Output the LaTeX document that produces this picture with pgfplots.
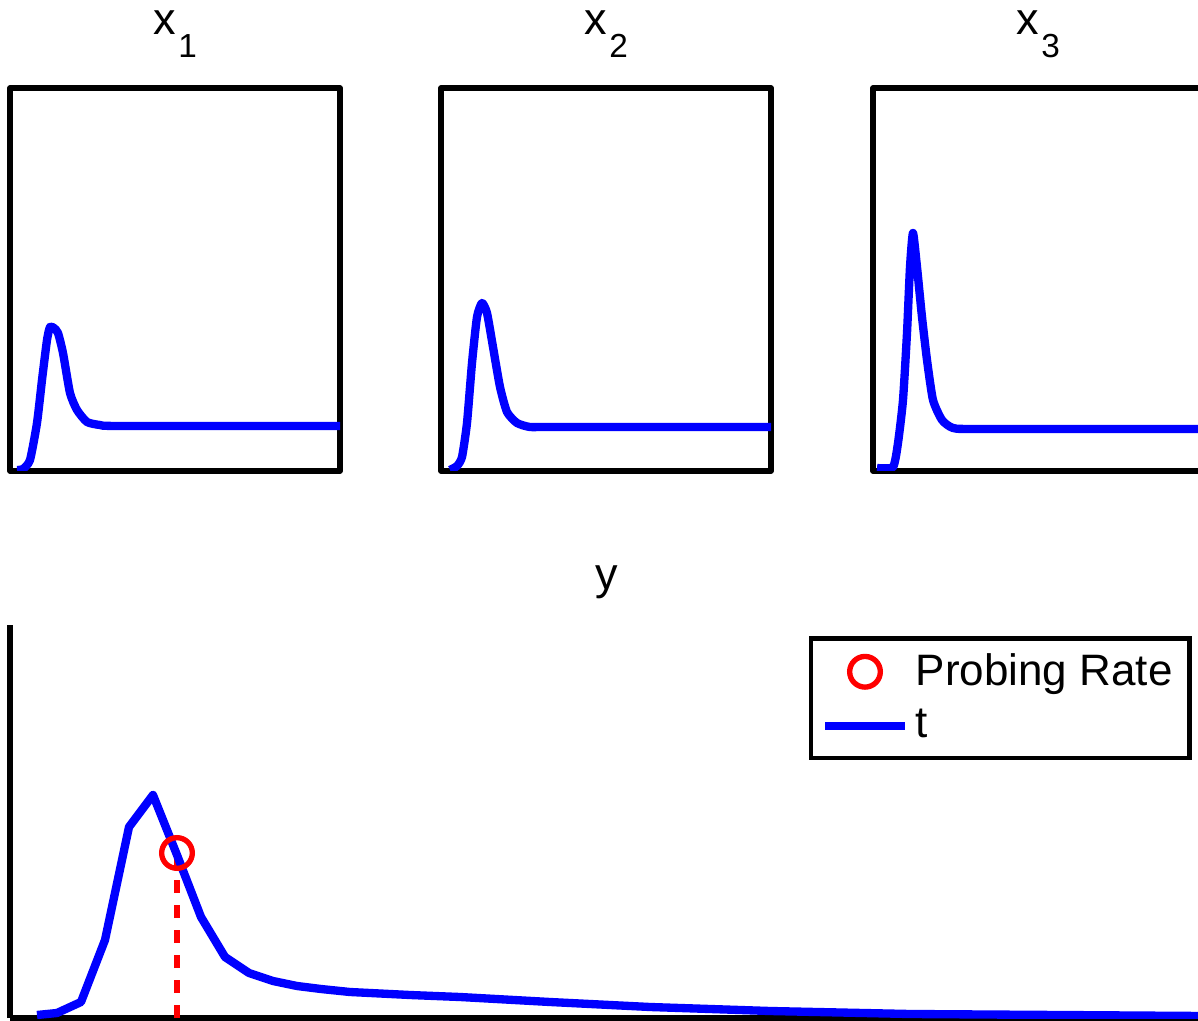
\documentclass[border=0pt]{standalone}
\usepackage{pgfplots}
\pgfplotsset{compat=1.18}
\usepackage{fontspec}
\setmainfont{Liberation Sans}
\begin{document}
\begin{tikzpicture}
\useasboundingbox (0,0) rectangle (359.4pt,306pt);
\pgfplotsset{
  every axis title shift=0pt,
  topax/.style={scale only axis, width=99pt, height=114.9pt,
    xmin=0, xmax=330, ymin=0, ymax=383, ticks=none,
    axis line style={line width=1.7pt, line join=round}, anchor=south west,
    title style={at={(0.5,1)}, anchor=base, yshift=15.9pt, font=\fontsize{13.5}{15}\selectfont}},
  blueline/.style={blue, line width=2.5pt, line join=round, mark=none}
}
\begin{axis}[topax, at={(3pt,164.7pt)}, title={x\kern0.8pt\raisebox{-6.9pt}{\fontsize{10}{12}\selectfont 1}}]
\addplot[blueline, smooth, tension=0.35] coordinates {(7,1) (13,2) (20,11) (27,48) (32,91) (37,131) (40,144) (44,143) (48,138) (53,118) (60,78) (67,61) (77,49) (90,46) (110,45) (330,45)};
\end{axis}
\begin{axis}[topax, at={(132.3pt,164.7pt)}, title={x\kern0.8pt\raisebox{-6.9pt}{\fontsize{10}{12}\selectfont 2}}]
\addplot[blueline, smooth, tension=0.35] coordinates {(9,1) (16,5) (21,14) (26,48) (31,108) (36,154) (41,168) (46,158) (52,124) (59,84) (66,59) (76,48) (89,44) (110,44) (330,44)};
\end{axis}
\begin{axis}[topax, at={(261.9pt,164.7pt)}, title={x\kern0.8pt\raisebox{-6.9pt}{\fontsize{10}{12}\selectfont 3}}]
\addplot[blueline, smooth, tension=0.35] coordinates {(4,3) (20,4) (25,28) (30,71) (34,138) (37,204) (40,238) (44,204) (49,154) (54,111) (60,71) (69,51) (80,43) (104,42) (330,42)};
\end{axis}
\begin{axis}[scale only axis, width=357.9pt, height=117.9pt, at={(3pt,0.6pt)}, anchor=south west,
  xmin=0, xmax=1193, ymin=0, ymax=393,
  axis x line=bottom, axis y line=left, axis line style={-, line width=1.7pt}, ticks=none,
  title={y}, title style={at={(0.5,1)}, anchor=base, yshift=10.5pt, font=\fontsize{13.5}{15}\selectfont},
  legend cell align=left,
  legend style={at={(0.9905,0.972)}, anchor=north east, draw=black, line width=1.4pt,
    font=\fontsize{13.2}{15}\selectfont, inner xsep=3pt, inner ysep=2.5pt, row sep=1.8pt}]
\addplot[red, line width=2pt, dash pattern=on 4pt off 3.5pt, forget plot] coordinates {(167,0) (167,160)};
\addplot[only marks, mark=o, mark size=4.6pt, red, mark options={line width=1.6pt},
  legend image code/.code={\draw[red, line width=1.6pt] (12pt,0pt) circle (4.6pt);}] coordinates {(167,165)};
\addlegendentry{Probing Rate}
\addplot[blueline, legend image code/.code={\draw[blue, line width=2.5pt] (0pt,0pt) -- (24pt,0pt);}] coordinates {(27,3) (47,5) (71,16) (95,78) (119,191) (143,223) (167,163) (191,101) (215,61) (239,45) (263,37) (287,32) (311,29) (340,26) (400,23) (450,21) (540,16) (640,11) (760,7) (900,4) (1050,3) (1193,2)};
\addlegendentry{t}
\end{axis}
\end{tikzpicture}
\end{document}
